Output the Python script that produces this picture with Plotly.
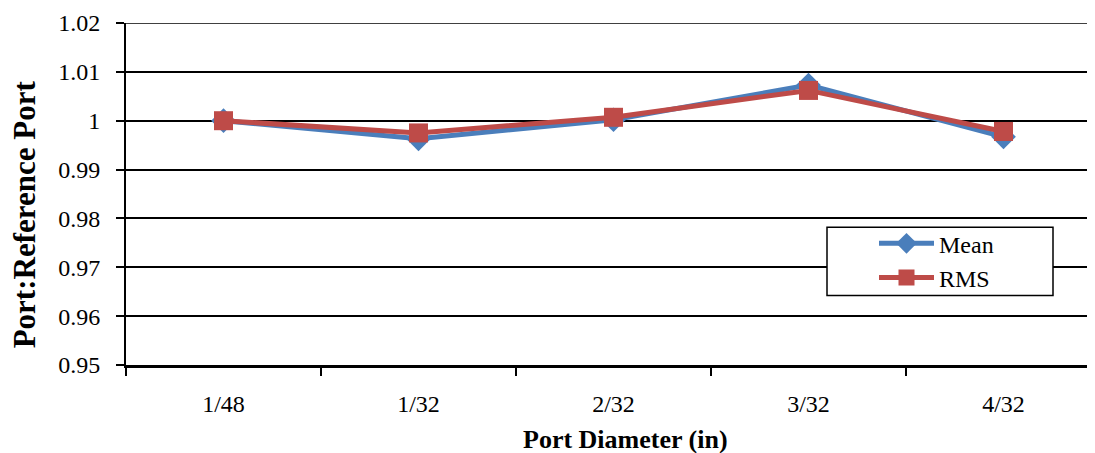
import plotly.graph_objects as go

categories = ["1/48", "1/32", "2/32", "3/32", "4/32"]
mean_vals = [1.0000, 0.9963, 1.0002, 1.0073, 0.9967]
rms_vals = [1.0000, 0.9975, 1.0007, 1.0062, 0.9978]
y_ticks = [0.95, 0.96, 0.97, 0.98, 0.99, 1.00, 1.01, 1.02]
y_ticktext = ["0.95", "0.96", "0.97", "0.98", "0.99", "1", "1.01", "1.02"]

FONT = "Liberation Serif"

fig = go.Figure()
fig.add_trace(go.Scatter(
    x=categories, y=mean_vals, name="Mean", mode="lines+markers",
    line=dict(color="#4a7ebb", width=5),
    marker=dict(symbol="diamond", size=19, color="#4a7ebb"),
))
fig.add_trace(go.Scatter(
    x=categories, y=rms_vals, name="RMS", mode="lines+markers",
    line=dict(color="#be4b48", width=5),
    marker=dict(symbol="square", size=19, color="#be4b48"),
))

# page body has an 8px offset; margins compensate
L, T, PW, PH = 118, 12, 975, 345
def px(xf):
    return (xf - L) / PW
def py(yf):
    return (T + PH - yf) / PH

fig.update_layout(
    width=1095, height=445,
    margin=dict(l=L, r=2, t=T, b=88),
    paper_bgcolor="white", plot_bgcolor="white",
    font=dict(family=FONT, size=24, color="black"),
    showlegend=True,
    legend=dict(
        x=px(866), y=py(212), xanchor="left", yanchor="top",
        borderwidth=0, bgcolor="rgba(0,0,0,0)",
        font=dict(family=FONT, size=24, color="black"),
        itemwidth=55, tracegroupgap=0,
    ),
    xaxis=dict(
        type="category",
        showline=True, linecolor="black", linewidth=2.5,
        ticks="outside", tickson="boundaries", ticklen=8, tickwidth=1.5, tickcolor="black",
        showgrid=False, zeroline=False,
        tickfont=dict(family=FONT, size=24),
        ticklabelstandoff=15,
        range=[-0.5, 4.5],
    ),
    yaxis=dict(
        range=[y_ticks[0], y_ticks[-1]],
        tickvals=y_ticks, ticktext=y_ticktext,
        ticklabeloverflow="allow",
        showline=True, linecolor="black", linewidth=2,
        ticks="outside", ticklen=8, tickwidth=1.5, tickcolor="black",
        showgrid=True, gridcolor="black", gridwidth=1.5,
        zeroline=False,
        tickfont=dict(family=FONT, size=24),
        ticklabelstandoff=11,
    ),
    shapes=[
        # top gridline (Plotly drops gridlines at the range edge)
        dict(type="line", xref="paper", yref="y", x0=0, x1=1,
             y0=y_ticks[-1], y1=y_ticks[-1],
             line=dict(color="black", width=1.5), layer="below"),
        dict(type="rect", xref="paper", yref="paper",
             x0=px(819), x1=px(1045), y0=py(287), y1=py(218),
             line=dict(color="black", width=1.5), fillcolor="white", layer="above"),
    ],
    annotations=[
        dict(text="<b>Port Diameter (in)</b>", xref="paper", yref="paper",
             x=px(617), y=py(432), xanchor="center", yanchor="middle",
             showarrow=False, font=dict(family=FONT, size=26, color="black")),
        dict(text="<b>Port:Reference Port</b>", xref="paper", yref="paper",
             x=px(16), y=py(205), xanchor="center", yanchor="middle",
             textangle=-90, showarrow=False, font=dict(family=FONT, size=31, color="black")),
    ],
)

fig.write_html("out.html")
